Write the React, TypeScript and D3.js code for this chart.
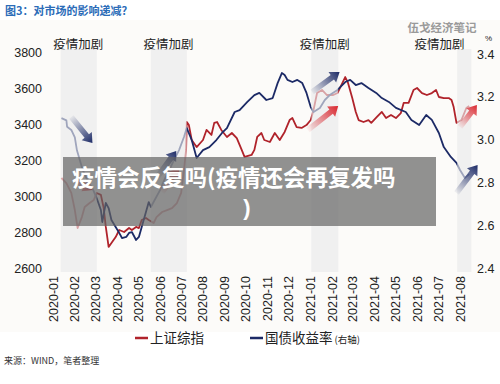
import React from 'react';
import * as d3 from 'd3';

// 上证综指 (left axis)
const shDates = ['2020-01-13','2020-01-20','2020-01-27','2020-02-01','2020-02-05','2020-02-11','2020-02-15','2020-02-22','2020-02-28','2020-03-03','2020-03-09','2020-03-13','2020-03-16','2020-03-20','2020-03-24','2020-03-30','2020-04-04','2020-04-11','2020-04-18','2020-04-22','2020-04-28','2020-05-02','2020-05-06','2020-05-12','2020-05-16','2020-05-23','2020-05-27','2020-06-04','2020-06-11','2020-06-18','2020-06-25','2020-07-01','2020-07-05','2020-07-08','2020-07-09','2020-07-12','2020-07-16','2020-07-23','2020-08-01','2020-08-06','2020-08-13','2020-08-17','2020-08-21','2020-08-27','2020-09-04','2020-09-11','2020-09-18','2020-09-25','2020-09-29','2020-10-09','2020-10-13','2020-10-17','2020-10-23','2020-10-27','2020-11-04','2020-11-11','2020-11-18','2020-11-25','2020-12-02','2020-12-06','2020-12-12','2020-12-19','2020-12-26','2021-01-01','2021-01-05','2021-01-10','2021-01-17','2021-01-24','2021-02-02','2021-02-08','2021-02-19','2021-02-23','2021-03-01','2021-03-06','2021-03-10','2021-03-17','2021-03-24','2021-03-28','2021-04-05','2021-04-12','2021-04-18','2021-04-25','2021-05-02','2021-05-09','2021-05-13','2021-05-20','2021-05-27','2021-06-01','2021-06-08','2021-06-15','2021-06-22','2021-06-28','2021-07-02','2021-07-09','2021-07-16','2021-07-20','2021-07-23','2021-07-27','2021-08-03','2021-08-10','2021-08-14'];
const shValues = [3100,3072,3017,2922,2822,2883,2939,2961,2978,3017,3006,2933,2828,2717,2739,2772,2811,2800,2822,2811,2828,2822,2867,2878,2867,2850,2883,2911,2922,2933,2961,3017,3144,3256,3411,3394,3311,3272,3311,3367,3339,3406,3411,3367,3328,3350,3322,3256,3217,3228,3256,3328,3350,3311,3300,3350,3311,3356,3422,3433,3383,3378,3394,3422,3478,3572,3589,3561,3561,3572,3661,3628,3544,3467,3422,3411,3422,3406,3439,3467,3433,3450,3433,3461,3517,3517,3589,3600,3572,3561,3572,3589,3550,3544,3544,3533,3494,3406,3422,3489,3500];

// 国债收益率 (right axis, %)
const bondDates = ['2020-01-13','2020-01-20','2020-01-21','2020-01-27','2020-02-01','2020-02-04','2020-02-12','2020-02-19','2020-02-27','2020-03-03','2020-03-09','2020-03-11','2020-03-16','2020-03-20','2020-03-24','2020-03-30','2020-04-04','2020-04-08','2020-04-14','2020-04-18','2020-04-22','2020-04-28','2020-05-02','2020-05-06','2020-05-12','2020-05-16','2020-05-19','2020-06-01','2020-06-07','2020-06-14','2020-06-21','2020-06-28','2020-07-05','2020-07-09','2020-07-16','2020-07-23','2020-08-01','2020-08-10','2020-08-20','2020-08-28','2020-09-04','2020-09-15','2020-09-22','2020-09-26','2020-10-03','2020-10-13','2020-10-20','2020-10-30','2020-11-08','2020-11-15','2020-11-21','2020-11-25','2020-11-29','2020-12-06','2020-12-13','2020-12-20','2020-12-26','2021-01-01','2021-01-05','2021-01-14','2021-01-21','2021-01-28','2021-02-08','2021-02-19','2021-02-26','2021-03-06','2021-03-14','2021-03-24','2021-04-04','2021-04-12','2021-04-22','2021-05-02','2021-05-16','2021-05-24','2021-06-04','2021-06-14','2021-06-22','2021-07-02','2021-07-09','2021-07-19','2021-07-27','2021-08-01','2021-08-08','2021-08-14'];
const bondValues = [3.10,3.09,3.06,3.045,3.01,2.95,2.86,2.81,2.765,2.727,2.671,2.615,2.704,2.680,2.624,2.592,2.564,2.540,2.545,2.564,2.568,2.531,2.545,2.592,2.662,2.708,2.685,2.764,2.811,2.858,2.905,2.951,3.012,3.054,2.998,2.914,2.951,2.965,2.998,3.031,3.054,3.129,3.138,3.152,3.176,3.208,3.218,3.185,3.194,3.264,3.311,3.302,3.279,3.269,3.279,3.264,3.218,3.152,3.129,3.148,3.185,3.208,3.232,3.269,3.279,3.255,3.264,3.241,3.218,3.194,3.176,3.148,3.129,3.092,3.068,3.115,3.092,3.031,2.965,2.919,2.891,2.858,2.821,2.839];

// 疫情加剧 periods
const bandStarts = ['2020-01-12','2020-05-19','2021-01-02','2021-07-28'];
const bandEnds = ['2020-03-03','2020-07-09','2021-02-09','2021-08-17'];
const bandLabelAt = ['2020-02-06','2020-06-13','2021-01-21','2021-07-03'];
const bandLabel = '疫情加剧';

// trend arrows, placed in index-level coordinates
const arrowFrom = ['2020-01-27','2020-02-01','2020-05-27','2020-06-04','2021-01-03','2020-12-28','2021-08-01','2021-07-27'];
const arrowFromV = [3439,3089,3100,3022,3578,3367,3383,3017];
const arrowTo = ['2020-02-26','2020-02-26','2020-06-24','2020-06-28','2021-02-11','2021-02-09','2021-08-25','2021-08-26'];
const arrowToV = [3294,3033,3250,3156,3689,3500,3506,3172];
const arrowSeries = ['bond','sh','bond','sh','bond','sh','sh','bond'];

const leftTicks = [2600,2800,3000,3200,3400,3600,3800];
const rightTicks = [2.4,2.6,2.8,3.0,3.2,3.4];

const RED = '#b0232b';
const NAVY = '#1c2a66';
const LATIN = '"Liberation Sans", Arial, "Noto Sans CJK SC", sans-serif';
const CJK = '"Noto Sans CJK SC", "Liberation Sans", sans-serif';

const parse = d3.timeParse('%Y-%m-%d');

export default function App() {
  const x = d3.scaleTime()
    .domain([new Date(2020, 0, 1), new Date(2021, 7, 1)])
    .range([53, 460]);
  const yL = d3.scaleLinear().domain([2600, 3800]).range([268, 52]);
  const yR = d3.scaleLinear().domain([2.4, 3.4]).range([268, 54]);
  const months = d3.timeMonth.range(new Date(2020, 0, 1), new Date(2021, 7, 2));
  const fmt = d3.timeFormat('%Y-%m');

  const sh = shDates.map((d, i) => ({ d: parse(d), v: shValues[i] }));
  const bond = bondDates.map((d, i) => ({ d: parse(d), v: bondValues[i] }));
  const shLine = d3.line().x(p => x(p.d)).y(p => yL(p.v));
  const bondLine = d3.line().x(p => x(p.d)).y(p => yR(p.v));

  const top = 49, bottom = 272;

  const arrows = arrowFrom.map((d, i) => {
    const x1 = x(parse(d)), y1 = yL(arrowFromV[i]);
    const x2 = x(parse(arrowTo[i])), y2 = yL(arrowToV[i]);
    const len = Math.hypot(x2 - x1, y2 - y1);
    const ux = (x2 - x1) / len, uy = (y2 - y1) / len;
    const nx = -uy, ny = ux;
    const sw = 2.8, hw = 6.5, hl = 9;
    const bx = x2 - ux * hl, by = y2 - uy * hl;
    const pts = [
      [x1 + nx * sw, y1 + ny * sw], [bx + nx * sw, by + ny * sw], [bx + nx * hw, by + ny * hw],
      [x2, y2], [bx - nx * hw, by - ny * hw], [bx - nx * sw, by - ny * sw], [x1 - nx * sw, y1 - ny * sw]
    ];
    return { x1, y1, x2, y2, pts, color: arrowSeries[i] === 'sh' ? '#d9262e' : NAVY };
  });

  return (
    <svg width={500} height={384} style={{ position: 'absolute', left: 0, top: 0, background: '#fff' }}>
      <defs>
        {arrows.map((a, i) => (
          <linearGradient key={i} id={`ag${i}`} gradientUnits="userSpaceOnUse" x1={a.x1} y1={a.y1} x2={a.x2} y2={a.y2}>
            <stop offset="0" stopColor={a.color} stopOpacity={0.05} />
            <stop offset="1" stopColor={a.color} stopOpacity={1} />
          </linearGradient>
        ))}
      </defs>
      <rect x={0} y={20} width={500} height={312} fill="#fcfbf9" />

      <text x={5} y={15} fontFamily={CJK} fontSize={11} fontWeight="bold" fill="#2b6cb8">图3：对市场的影响递减？</text>
      <text x={442} y={32} textAnchor="middle" fontFamily={CJK} fontSize={11.5} fontWeight="bold" fill="#9a9a9a">伍戈经济笔记</text>

      {bandStarts.map((s, i) => (
        <rect key={i} x={x(parse(s))} y={top} width={x(parse(bandEnds[i])) - x(parse(s))} height={bottom - top} fill="#f0f0f0" />
      ))}
      {bandLabelAt.map((d, i) => (
        <text key={i} x={x(parse(d))} y={49} textAnchor="middle" fontFamily={CJK} fontSize={12.5} fill="#222">{bandLabel}</text>
      ))}

      {leftTicks.map(t => (
        <text key={t} x={42} y={yL(t) + 4.5} textAnchor="end" fontFamily={LATIN} fontSize={12.5} fill="#222">{t}</text>
      ))}
      {rightTicks.map(t => (
        <text key={t} x={477} y={yR(t) + 4.5} fontFamily={LATIN} fontSize={12.5} fill="#222">{t.toFixed(1)}</text>
      ))}
      <text x={485} y={41} fontFamily={LATIN} fontSize={8} fill="#222">%</text>

      {months.map(m => (
        <text key={+m} transform={`translate(${x(m) + 4.5},276) rotate(-90)`} textAnchor="end" fontFamily={LATIN} fontSize={12.5} fill="#222">{fmt(m)}</text>
      ))}

      <path d={shLine(sh)} fill="none" stroke={RED} strokeWidth={1.8} strokeLinejoin="round" />
      <path d={bondLine(bond)} fill="none" stroke={NAVY} strokeWidth={1.8} strokeLinejoin="round" />

      {bandStarts.map((s, i) => (
        <rect key={i} x={x(parse(s))} y={top} width={x(parse(bandEnds[i])) - x(parse(s))} height={bottom - top} fill="#f0f0f0" fillOpacity={0.62} />
      ))}

      {arrows.map((a, i) => (
        <polygon key={i} points={a.pts.map(p => p.join(',')).join(' ')} fill={`url(#ag${i})`} />
      ))}

      <line x1={135} x2={148} y1={338} y2={338} stroke={RED} strokeWidth={2.5} />
      <text x={150} y={343} fontFamily={CJK} fontSize={13.5} fill="#222">上证综指</text>
      <line x1={250} x2={263} y1={338} y2={338} stroke={NAVY} strokeWidth={2.5} />
      <text x={265} y={343} fontFamily={CJK} fontSize={13.5} fill="#222">国债收益率<tspan fontSize={9.5} dx={2}>(右轴)</tspan></text>

      <text x={4} y={364} fontFamily={CJK} fontSize={9} fill="#333">来源：WIND，笔者整理</text>

      <rect x={63} y={157} width={373} height={69} fill="#646464" fillOpacity={0.7} />
      <text x={72} y={186} fontFamily={CJK} fontSize={22.5} fontWeight="bold" fill="#fff">疫情会反复吗(疫情还会再复发吗</text>
      <text x={247} y={215} textAnchor="middle" fontFamily={LATIN} fontSize={22} fontWeight="bold" fill="#fff">)</text>
    </svg>
  );
}
